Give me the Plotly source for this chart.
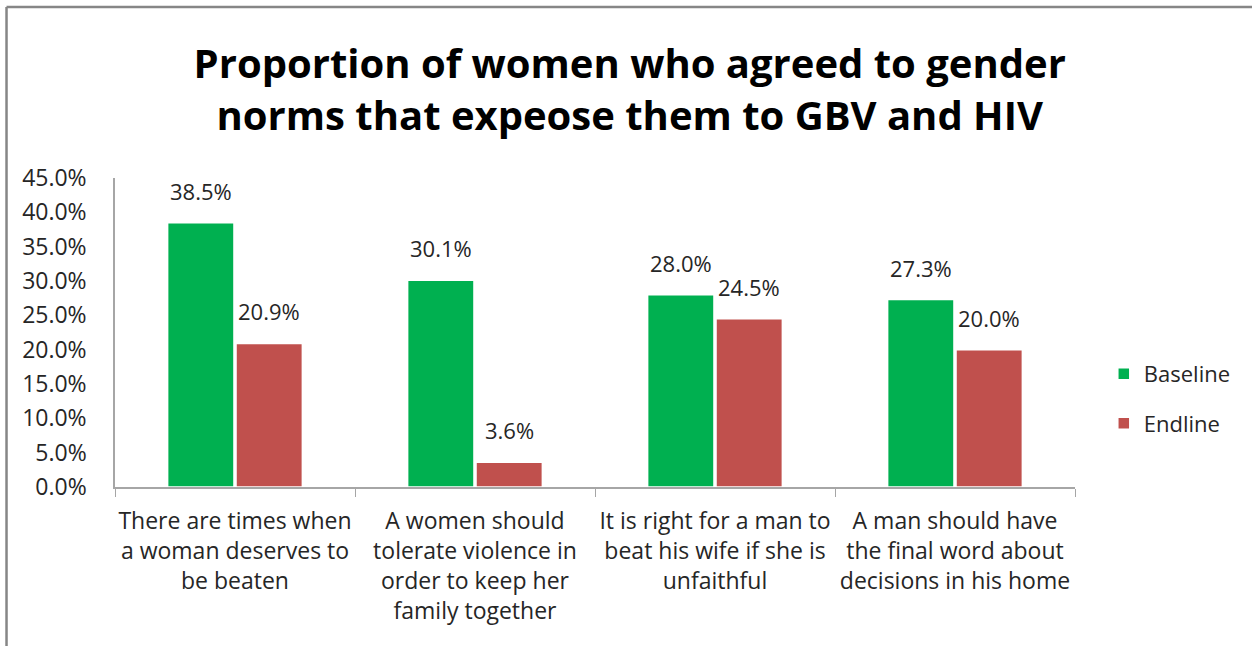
import plotly.graph_objects as go

categories = [
    "There are times when<br>a woman deserves to<br>be beaten",
    "A women should<br>tolerate violence in<br>order to keep her<br>family together",
    "It is right for a man to<br>beat his wife if she is<br>unfaithful",
    "A man should have<br>the final word about<br>decisions in his home",
]
baseline = [38.5, 30.1, 28.0, 27.3]
endline = [20.9, 3.6, 24.5, 20.0]
y_ticks = [0, 5, 10, 15, 20, 25, 30, 35, 40, 45]
y_tick_labels = [f"{v:.1f}%" for v in y_ticks]

FONT = "Open Sans"
TXT = "#262626"
GREEN = "#00B050"
RED = "#C0504D"

fig = go.Figure()
fig.add_trace(go.Bar(
    name="Baseline", x=categories, y=baseline,
    marker=dict(color=GREEN, line=dict(color="white", width=1.5)),
    legendgroup="a",
))
fig.add_trace(go.Bar(
    name="Endline", x=categories, y=endline,
    marker=dict(color=RED, line=dict(color="white", width=1.5)),
    legendgroup="b",
))

annotations = []
for series, shift in ((baseline, -34), (endline, 34)):
    for c, v in zip(categories, series):
        annotations.append(dict(
            x=c, y=v, xref="x", yref="y", text=f"{v:.1f}%",
            showarrow=False, xanchor="center", yanchor="middle",
            xshift=shift, yshift=32,
            font=dict(size=22, color=TXT, family=FONT),
        ))

fig.update_layout(
    width=1252, height=646,
    margin=dict(l=115, r=177, t=178, b=159),
    paper_bgcolor="white", plot_bgcolor="white",
    barmode="group", bargap=0.43, bargroupgap=0.03,
    font=dict(family=FONT, color=TXT, size=22),
    title=dict(
        text="<b>Proportion of women who agreed to gender<br>norms that expeose them to GBV and HIV</b>",
        x=0.503, xanchor="center", y=0.88, yanchor="middle",
        font=dict(size=40, color="black", family=FONT),
    ),
    legend=dict(
        x=1.03, xanchor="left", y=0.285, yanchor="middle",
        font=dict(size=22, color=TXT, family=FONT),
        traceorder="grouped", tracegroupgap=18,
        itemwidth=30,
    ),
    showlegend=True,
    annotations=annotations,
    shapes=[
        dict(type="line", xref="paper", yref="paper",
             x0=-0.113, x1=1.2, y0=1.553, y1=1.553,
             line=dict(color="#868686", width=2.5)),
        dict(type="line", xref="paper", yref="paper",
             x0=-0.113, x1=-0.113, y0=1.553, y1=-0.52,
             line=dict(color="#868686", width=2.5)),
    ],
)
fig.update_xaxes(
    showline=True, linecolor="#A6A6A6", linewidth=1.5,
    ticks="outside", tickson="boundaries", ticklen=8, tickcolor="#A6A6A6",
    tickfont=dict(size=23, color=TXT, family=FONT),
    ticklabelstandoff=13, tickangle=0, automargin=False,
    showgrid=False,
)
fig.update_yaxes(
    range=[0, 45], tickvals=y_ticks, ticktext=y_tick_labels,
    showline=True, linecolor="#A6A6A6", linewidth=1.5,
    showgrid=False, ticks="", zeroline=False,
    tickfont=dict(size=23, color=TXT, family=FONT),
    ticklabelstandoff=22, automargin=False,
)

fig.write_html("out.html")
